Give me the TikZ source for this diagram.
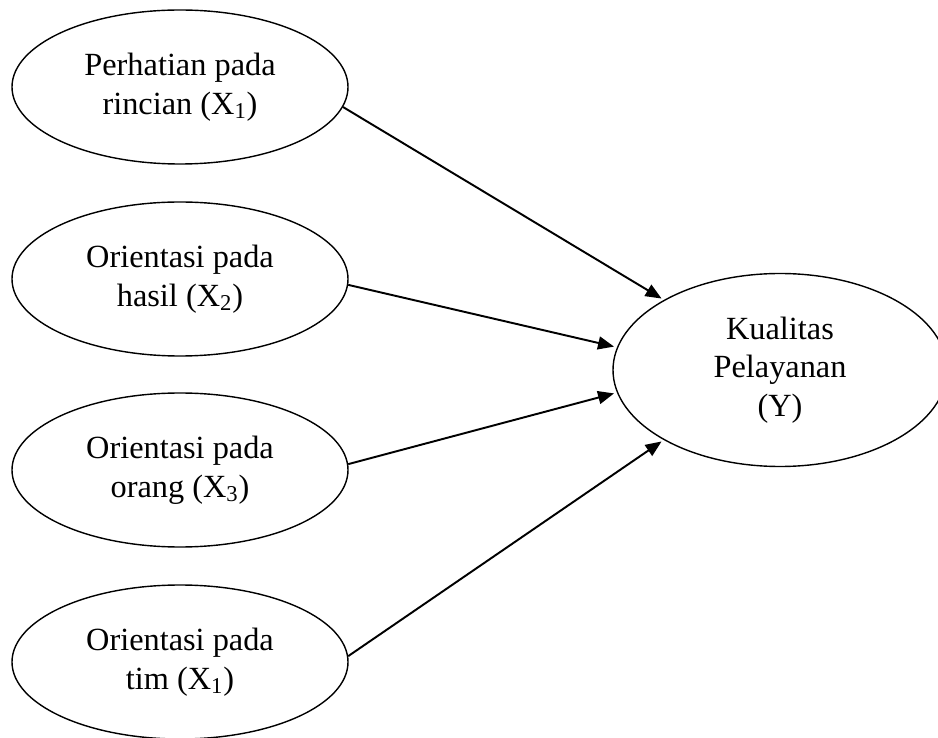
\documentclass[tikz,border=0pt]{standalone}
\usepackage{fontspec}
\setmainfont{Liberation Serif}
\usepackage{tikz}
\usetikzlibrary{arrows.meta,shapes.geometric}

\begin{document}
\begin{tikzpicture}[
    var/.style={draw, ellipse, line width=0.8pt, inner sep=0pt, align=center,
        minimum width=6.72cm, minimum height=3.08cm, font=\fontsize{18.4}{22}\selectfont},
    path/.style={-{Triangle[length=0.32cm,width=0.26cm]}, line width=1.1pt}]
    \useasboundingbox (0,0) rectangle (18.76,-14.76);
    \node[var] (X1) at (3.6,-1.74) {Perhatian pada\\rincian (X\textsubscript{1})};
    \node[var] (X2) at (3.6,-5.58) {Orientasi pada\\hasil (X\textsubscript{2})};
    \node[var] (X3) at (3.6,-9.4) {Orientasi pada\\orang (X\textsubscript{3})};
    \node[var] (X4) at (3.6,-13.24) {Orientasi pada\\tim (X\textsubscript{1})};
    \node[var, minimum width=6.68cm, minimum height=3.86cm] (Y) at (15.6,-7.4) {Kualitas\\Pelayanan\\(Y)};
    \draw[path] (X1.-7) -- ([shift={(-0.04,0.03)}]Y.149);
    \draw[path] (X2.-2) -- ([shift={(-0.06,0.01)}]Y.172);
    \draw[path] (X3.2) -- ([shift={(-0.06,-0.01)}]Y.188);
    \draw[path] (X4.2) -- ([shift={(-0.04,-0.03)}]Y.211);
\end{tikzpicture}
\end{document}
